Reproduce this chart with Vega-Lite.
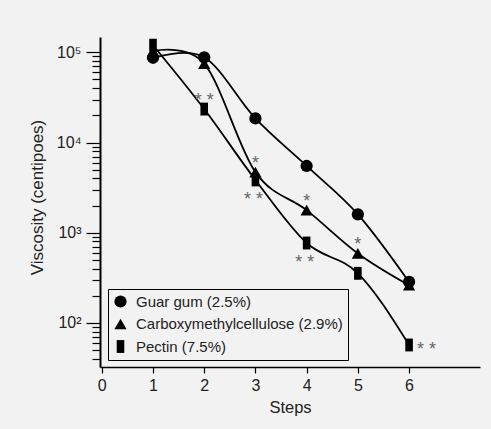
{
  "$schema": "https://vega.github.io/schema/vega-lite/v6.json",
  "width": 380,
  "height": 330,
  "autosize": {"type": "none"},
  "padding": {"left": 100, "top": 37, "right": 11, "bottom": 62},
  "background": "#f2f2f2",
  "config": {
    "view": {"stroke": null},
    "font": "Liberation Sans",
    "axis": {
      "grid": false,
      "domainColor": "black",
      "tickColor": "black",
      "labelColor": "#222",
      "titleColor": "#222",
      "labelFont": "Liberation Sans",
      "titleFont": "Liberation Sans",
      "titleFontWeight": "normal"
    }
  },
  "resolve": {"scale": {"y": "shared"}, "axis": {"y": "independent"}},
  "datasets": {
    "points": [
      {"series": "Guar gum (2.5%)", "step": 1, "viscosity": 87000},
      {"series": "Guar gum (2.5%)", "step": 2, "viscosity": 88000},
      {"series": "Guar gum (2.5%)", "step": 3, "viscosity": 18500},
      {"series": "Guar gum (2.5%)", "step": 4, "viscosity": 5500},
      {"series": "Guar gum (2.5%)", "step": 5, "viscosity": 1600},
      {"series": "Guar gum (2.5%)", "step": 6, "viscosity": 285},
      {"series": "Carboxymethylcellulose (2.9%)", "step": 1, "viscosity": 103000},
      {"series": "Carboxymethylcellulose (2.9%)", "step": 2, "viscosity": 75000},
      {"series": "Carboxymethylcellulose (2.9%)", "step": 3, "viscosity": 4700},
      {"series": "Carboxymethylcellulose (2.9%)", "step": 4, "viscosity": 1780},
      {"series": "Carboxymethylcellulose (2.9%)", "step": 5, "viscosity": 590},
      {"series": "Carboxymethylcellulose (2.9%)", "step": 6, "viscosity": 262},
      {"series": "Pectin (7.5%)", "step": 1, "viscosity": 120000},
      {"series": "Pectin (7.5%)", "step": 2, "viscosity": 23500},
      {"series": "Pectin (7.5%)", "step": 3, "viscosity": 3850},
      {"series": "Pectin (7.5%)", "step": 4, "viscosity": 770},
      {"series": "Pectin (7.5%)", "step": 5, "viscosity": 355},
      {"series": "Pectin (7.5%)", "step": 6, "viscosity": 57}
    ],
    "notes": [
      {"step": 2, "viscosity": 23500, "label": "* *", "place": "above"},
      {"step": 3, "viscosity": 4700, "label": "*", "place": "above"},
      {"step": 3, "viscosity": 3850, "label": "* *", "place": "below"},
      {"step": 4, "viscosity": 1780, "label": "*", "place": "above"},
      {"step": 4, "viscosity": 770, "label": "* *", "place": "below"},
      {"step": 5, "viscosity": 590, "label": "*", "place": "above"},
      {"step": 6, "viscosity": 57, "label": "* *", "place": "right"}
    ]
  },
  "layer": [
    {
      "data": {"name": "points"},
      "transform": [{"filter": "datum.series != 'Pectin (7.5%)'"}],
      "mark": {"type": "line", "interpolate": "cardinal", "color": "black", "strokeWidth": 1.8},
      "encoding": {
        "x": {"field": "step", "type": "quantitative",
          "scale": {"domain": [-0.035, 7.385], "nice": false, "zero": false},
          "axis": {"values": [0, 1, 2, 3, 4, 5, 6], "title": "Steps", "tickSize": 6, "tickWidth": 1.2,
            "domainWidth": 1.5, "labelFontSize": 16, "labelPadding": 4, "labelFlush": false,
            "titleFontSize": 16.5, "titleY": 45, "titleBaseline": "alphabetic"}},
        "y": {"field": "viscosity", "type": "quantitative",
          "scale": {"type": "log", "domain": [32.5, 147900], "nice": false},
          "axis": {
            "orient": "left",
            "values": [40, 50, 60, 70, 80, 90, 200, 300, 400, 500, 600, 700, 800, 900, 2000, 3000, 4000, 5000, 6000, 7000, 8000, 9000, 20000, 30000, 40000, 50000, 60000, 70000, 80000, 90000],
            "title": null,
            "labels": false,
            "tickSize": 8,
            "tickWidth": 1.2,
            "domainWidth": 2
          }},
        "detail": {"field": "series"}
      }
    },
    {
      "data": {"name": "points"},
      "transform": [{"filter": "datum.series == 'Pectin (7.5%)'"}],
      "mark": {"type": "line", "interpolate": "monotone", "color": "black", "strokeWidth": 1.8},
      "encoding": {
        "x": {"field": "step", "type": "quantitative"},
        "y": {"field": "viscosity", "type": "quantitative", "axis": null}
      }
    },
    {
      "data": {"name": "points"},
      "mark": {"type": "point", "filled": true, "opacity": 1, "size": 150, "color": "black"},
      "encoding": {
        "x": {"field": "step", "type": "quantitative"},
        "y": {"field": "viscosity", "type": "quantitative",
          "axis": {
            "orient": "left",
            "values": [100, 1000, 10000, 100000],
            "title": "Viscosity (centipoes)",
            "domain": false,
            "tickSize": 14,
            "tickWidth": 1.2,
            "labelExpr": "datum.value == 100000 ? '10⁵' : datum.value == 10000 ? '10⁴' : datum.value == 1000 ? '10³' : '10²'",
            "labelFontSize": 16,
            "labelPadding": 5,
            "labelFlush": false,
            "labelOverlap": false,
            "titleFontSize": 17,
            "titleX": -63,
            "titleY": 160,
            "titleAngle": -90,
            "titleAlign": "center",
            "titleBaseline": "middle"
          }},
        "shape": {"field": "series", "type": "nominal",
          "scale": {"domain": ["Guar gum (2.5%)", "Carboxymethylcellulose (2.9%)", "Pectin (7.5%)"],
            "range": ["circle", "triangle-up", "M-0.62,-1.05H0.62V1.05H-0.62Z"]},
          "legend": {"title": null, "orient": "none", "legendX": 8, "legendY": 252,
            "strokeColor": "black", "padding": 5,
            "labelFontSize": 15, "labelColor": "#222", "labelFont": "Liberation Sans",
            "labelExpr": "datum.label + ' '",
            "symbolSize": 150, "symbolFillColor": "black", "symbolStrokeWidth": 0,
            "rowPadding": 6.5, "labelOffset": 8, "labelLimit": 400,
            "encode": {"legend": {"update": {"strokeWidth": {"value": 1.5}}}}}}
      }
    },
    {
      "data": {"name": "notes"},
      "transform": [{"filter": "datum.place == 'above'"}],
      "mark": {"type": "text", "color": "#666", "fontSize": 18, "baseline": "alphabetic", "dy": -3},
      "encoding": {
        "x": {"field": "step", "type": "quantitative"},
        "y": {"field": "viscosity", "type": "quantitative", "axis": null},
        "text": {"field": "label"}
      }
    },
    {
      "data": {"name": "notes"},
      "transform": [{"filter": "datum.place == 'below'"}],
      "mark": {"type": "text", "color": "#666", "fontSize": 18, "baseline": "alphabetic", "dy": 25, "dx": -2},
      "encoding": {
        "x": {"field": "step", "type": "quantitative"},
        "y": {"field": "viscosity", "type": "quantitative", "axis": null},
        "text": {"field": "label"}
      }
    },
    {
      "data": {"name": "notes"},
      "transform": [{"filter": "datum.place == 'right'"}],
      "mark": {"type": "text", "color": "#666", "fontSize": 18, "baseline": "alphabetic", "align": "left", "dy": 10, "dx": 8},
      "encoding": {
        "x": {"field": "step", "type": "quantitative"},
        "y": {"field": "viscosity", "type": "quantitative", "axis": null},
        "text": {"field": "label"}
      }
    }
  ]
}
